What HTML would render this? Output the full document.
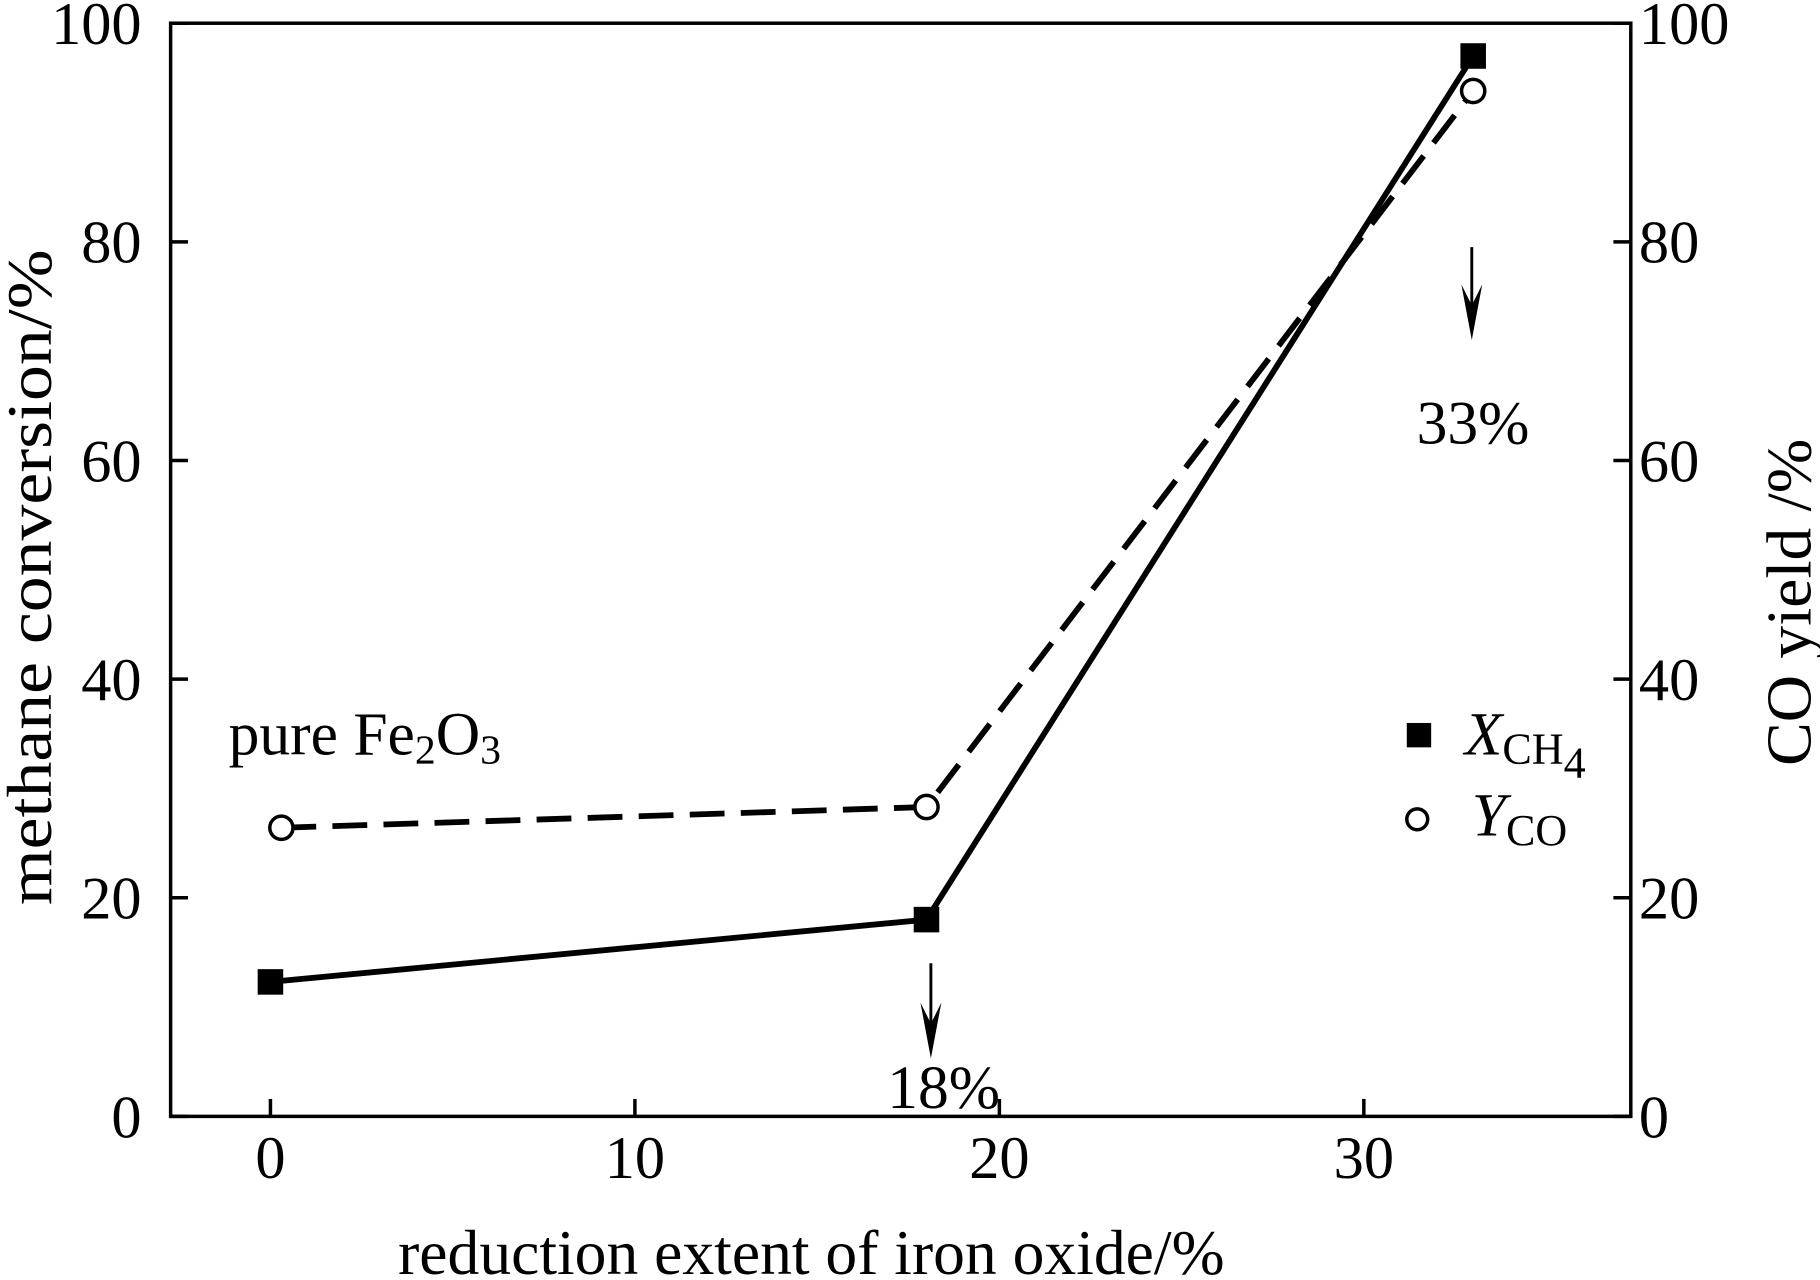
<!DOCTYPE html>
<html><head><meta charset="utf-8"><style>
html,body{margin:0;padding:0;background:#fff;}
svg{display:block;}
text{font-family:"Liberation Serif",serif;fill:#000;}
</style></head><body>
<svg id="chart" width="1820" height="1280" viewBox="0 0 1568 1103" preserveAspectRatio="none" xmlns="http://www.w3.org/2000/svg">
<g id="axes"></g>
<g id="marks"></g>
<g id="annot"></g>
</svg>
<script>
const xTicks = [0, 10, 20, 30];
const yTicks = [0, 20, 40, 60, 80, 100];
const xCH4x = [0, 18, 33];
const xCH4y = [12.3, 18.0, 97.0];
const yCOx = [0.3, 18, 33];
const yCOy = [26.4, 28.3, 93.8];

const L=147,R=1405,T=20,B=962;
const X0=233, XS=31.4;
function sx(v){return X0+v*XS;}
function sy(v){return B-v*(B-T)/100;}
const NS='http://www.w3.org/2000/svg';
function mk(tag,attrs,parent,txt){const e=document.createElementNS(NS,tag);for(const k in attrs)e.setAttribute(k,attrs[k]);if(txt!==undefined)e.textContent=txt;parent.appendChild(e);return e;}
const axes=document.getElementById('axes'),marks=document.getElementById('marks'),annot=document.getElementById('annot');

let frame=mk('rect',{x:L,y:T,width:R-L,height:B-T,fill:'none',stroke:'#000','stroke-width':3},axes);



xTicks.forEach(v=>{
  let t=mk('line',{x1:sx(v),x2:sx(v),y1:B,y2:B-15,stroke:'#000','stroke-width':3},axes);
  
  
  let l=mk('text',{x:sx(v),y:1015,'font-size':52,'text-anchor':'middle'},axes,String(v));
  
  
});
yTicks.forEach(v=>{
  let t=mk('line',{x1:L,x2:L+15,y1:sy(v),y2:sy(v),stroke:'#000','stroke-width':3},axes);
  
  
  let l=mk('text',{x:122,y:sy(v)+18,'font-size':52,'text-anchor':'end'},axes,String(v));
  
  
  let t2=mk('line',{x1:R,x2:R-15,y1:sy(v),y2:sy(v),stroke:'#000','stroke-width':3},axes);
  
  
  let l2=mk('text',{x:1412,y:sy(v)+18,'font-size':52,'text-anchor':'start'},axes,String(v));
  
  
});
let xt=mk('text',{x:343,y:1098,'font-size':55,textLength:712,lengthAdjust:'spacingAndGlyphs'},axes,'reduction extent of iron oxide/%');


let yl=mk('text',{x:-780,y:0,'font-size':55,textLength:565,lengthAdjust:'spacingAndGlyphs',transform:'translate(44,0) rotate(-90)'},axes,'methane conversion/%');


let yr=mk('text',{x:-660,y:0,'font-size':55,textLength:282,lengthAdjust:'spacingAndGlyphs',transform:'translate(1560,0) rotate(-90)'},axes,'CO yield /%');



let p1=mk('polyline',{points:xCH4x.map((v,i)=>sx(v)+','+sy(xCH4y[i])).join(' '),fill:'none',stroke:'#000','stroke-width':5},marks);


let p2=mk('polyline',{points:yCOx.map((v,i)=>sx(v)+','+sy(yCOy[i])).join(' '),fill:'none',stroke:'#000','stroke-width':5,'stroke-dasharray':'30 14'},marks);


xCH4x.forEach((v,i)=>{
  let s=mk('rect',{x:sx(v)-11,y:sy(xCH4y[i])-11,width:22,height:22,fill:'#000'},marks);
  
  
});
yCOx.forEach((v,i)=>{
  let c=mk('circle',{cx:sx(v),cy:sy(yCOy[i]),r:10,fill:'#fff',stroke:'#000','stroke-width':3},marks);
  
  
});

function arrow(x,y1,y2,name){
  let g=mk('g',{},annot);
  
  
  mk('line',{x1:x,x2:x,y1:y1,y2:y2-10,stroke:'#000','stroke-width':2.5},g);
  mk('polygon',{points:`${x-9},${y2-48} ${x},${y2} ${x+9},${y2-48} ${x},${y2-30}`,fill:'#000'},g);
}
arrow(802,830,912,'arrow-18');
arrow(1268,213,293,'arrow-33');
let a1=mk('text',{x:813,y:955,'font-size':53,'text-anchor':'middle'},annot,'18%');


let a2=mk('text',{x:1269,y:382,'font-size':53,'text-anchor':'middle'},annot,'33%');


let pf=mk('text',{x:197,y:650,'font-size':53},annot);


pf.innerHTML='pure Fe<tspan font-size="36" dy="8">2</tspan><tspan dy="-8">O</tspan><tspan font-size="36" dy="8">3</tspan>';

let lg1=mk('g',{},annot);


mk('rect',{x:1212,y:623,width:21,height:21,fill:'#000'},lg1);
let t1=mk('text',{x:1262,y:650,'font-size':53},lg1);
t1.innerHTML='<tspan font-style="italic">X</tspan><tspan font-size="38" dy="8">CH</tspan><tspan font-size="38" dy="12">4</tspan>';
let lg2=mk('g',{},annot);


mk('circle',{cx:1221,cy:706,r:9,fill:'#fff',stroke:'#000','stroke-width':3},lg2);
let t2=mk('text',{x:1268,y:720,'font-size':53},lg2);
t2.innerHTML='<tspan font-style="italic">Y</tspan><tspan font-size="38" dy="8">CO</tspan>';
</script>
</body></html>
